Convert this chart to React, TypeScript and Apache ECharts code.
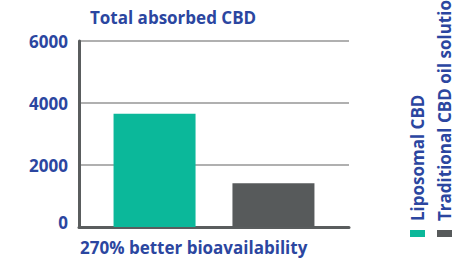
import React, { useEffect, useRef } from "react";
import * as echarts from "echarts";

const titleText = "Total absorbed CBD";
const xAxisLabel = "270% better bioavailability";
const seriesNames = ["Liposomal CBD", "Traditional CBD oil solution"];
const seriesValues = [3650, 1410];
const seriesColors = ["#0bb89a", "#575a5b"];
const categories = [""];
const yTicks = { min: 0, max: 6000, interval: 2000 };

const BLUE = "#2b46a0";
const FONT = "'Open Sans', 'Noto Sans', sans-serif";

export default function App() {
  const ref = useRef<HTMLDivElement>(null);
  useEffect(() => {
    if (!ref.current) return;
    const chart = echarts.init(ref.current, undefined, { renderer: "svg" });
    const legendX = [417, 444];
    const labelStyle = { color: BLUE, fontSize: 17, fontWeight: "bold", fontFamily: FONT };
    chart.setOption({
      animation: false,
      title: {
        text: titleText,
        left: 85,
        top: 4,
        textStyle: { color: BLUE, fontSize: 17, fontWeight: "bold", fontFamily: FONT },
      },
      grid: { left: 79, right: 116, top: 41, bottom: 32 },
      xAxis: {
        type: "category",
        data: categories,
        axisLine: { show: true, lineStyle: { color: "#5a5d5e", width: 3 } },
        axisTick: { show: false },
        axisLabel: { show: false },
      },
      yAxis: {
        type: "value",
        min: yTicks.min,
        max: yTicks.max,
        interval: yTicks.interval,
        axisLine: { show: true, lineStyle: { color: "#5a5d5e", width: 3 } },
        axisTick: { show: false },
        splitLine: { lineStyle: { color: "#b0b0b0", width: 2 } },
        axisLabel: {
          ...labelStyle,
          margin: 11,
          formatter: (v: number) => (v === 0 ? "{z|0}" : String(v)),
          rich: { z: { ...labelStyle, padding: [0, 0, 9, 0] } },
        },
      },
      series: seriesNames.map((name, i) => ({
        type: "bar",
        name,
        data: [seriesValues[i]],
        barWidth: 82,
        barGap: "45%",
        itemStyle: { color: seriesColors[i] },
      })),
      graphic: [
        {
          type: "text",
          left: 80,
          top: 239,
          style: {
            text: xAxisLabel,
            fill: BLUE,
            fontSize: 17,
            fontWeight: "bold",
            fontFamily: FONT,
          },
        },
        ...seriesNames.flatMap((name, i) => [
          {
            type: "rect",
            shape: { x: legendX[i] - 7, y: 230, width: 15, height: 7 },
            style: { fill: seriesColors[i] },
          },
          {
            type: "text",
            x: legendX[i],
            y: 221,
            rotation: Math.PI / 2,
            style: {
              text: name,
              fill: BLUE,
              fontSize: 17,
              fontWeight: "bold",
              fontFamily: FONT,
              align: "left",
              verticalAlign: "middle",
            },
          },
        ]),
      ],
    });
    return () => chart.dispose();
  }, []);
  return (
    <div
      ref={ref}
      style={{ position: "absolute", left: 0, top: 0, width: 465, height: 259 }}
    />
  );
}
